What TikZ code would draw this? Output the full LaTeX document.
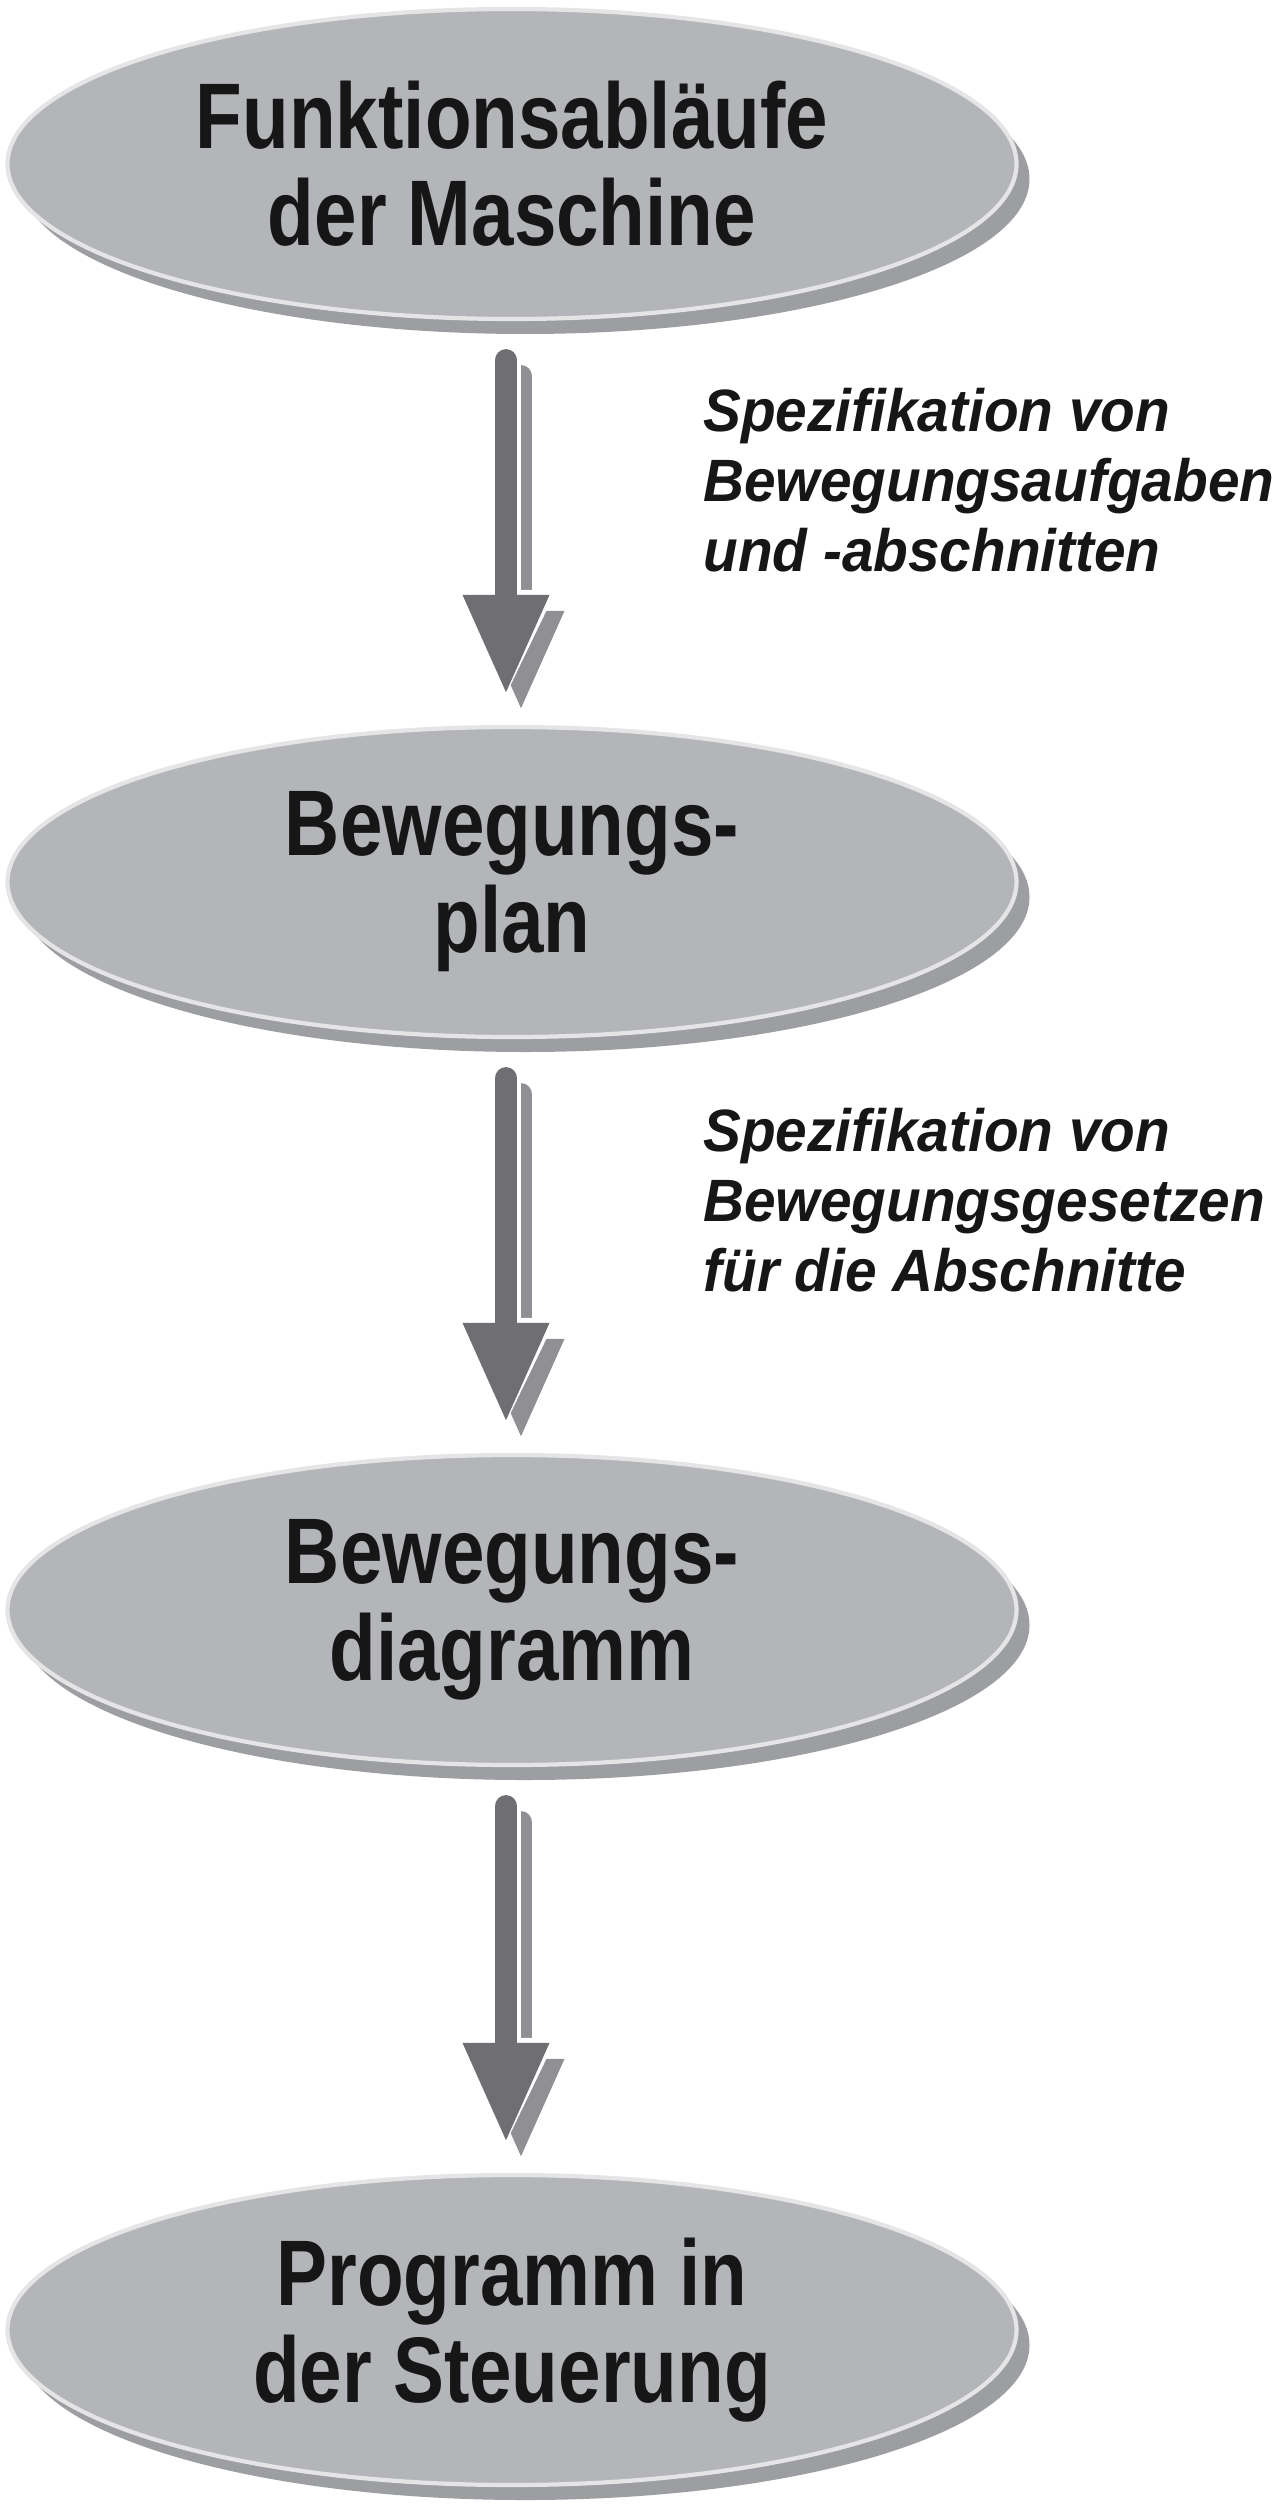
\documentclass[tikz,border=0pt]{standalone}
\usepackage{fontspec}
\newfontfamily\stagefont{Liberation Sans}[FakeStretch=0.82]
\newfontfamily\notefont{Liberation Sans}[FakeStretch=0.95]
\usetikzlibrary{arrows.meta, positioning, shapes.geometric, shadows}

\definecolor{stagegray}{HTML}{B3B5B9}
\definecolor{rimgray}{HTML}{9C9EA2}
\definecolor{arrowgray}{HTML}{6F6E73}
\definecolor{arrowshade}{HTML}{909094}
\definecolor{inkblack}{HTML}{161616}

\tikzset{
  stage/.style={ellipse, fill=stagegray, draw=gray!20, line width=1.2pt,
    minimum width=10.09cm, minimum height=3.1cm, inner sep=0pt,
    align=center, text=inkblack,
    font=\stagefont\bfseries\fontsize{26.5pt}{27.6pt}\selectfont,
    drop shadow={shadow xshift=0.13cm, shadow yshift=-0.15cm, fill=rimgray, opacity=1}},
  note/.style={align=left, anchor=west, text=inkblack,
    font=\notefont\bfseries\itshape\fontsize{17pt}{20pt}\selectfont},
  flow/.style={line width=0.22cm, arrowgray, line cap=round,
    shorten <=0.39cm, shorten >=0.30cm, -{Triangle[length=1cm, width=0.8cm]}},
  flowgap/.style={line width=0.3cm, white, line cap=round,
    shorten <=0.35cm, shorten >=0.27cm, -{Triangle[length=1.08cm, width=0.92cm]}},
  flowshade/.style={line width=0.22cm, arrowshade, line cap=round,
    shorten <=0.39cm, shorten >=0.30cm, -{Triangle[length=1cm, width=0.8cm]}}
}

\begin{document}
\begin{tikzpicture}
  \useasboundingbox (0,0) rectangle (12.8,-25.09);

  % stages
  \node[stage] (fa) at (5.12,-1.64) {Funktionsabläufe\\der Maschine};
  \node[stage] (bp) at (5.12,-8.82) {Bewegungs-\\plan};
  \node[stage] (bd) at (5.12,-16.10) {Bewegungs-\\diagramm};
  \node[stage] (ps) at (5.12,-23.30) {Programm in\\der Steuerung};

  % notes beside the arrows
  \node[note] (n1) at (6.91,-4.80) {Spezifikation von\\Bewegungsaufgaben\\und -abschnitten};
  \node[note] (n2) at (6.91,-12.00) {Spezifikation von\\Bewegungsgesetzen\\für die Abschnitte};

  % arrows with shadow
  \foreach \a/\b in {fa/bp, bp/bd, bd/ps} {
    \draw[flowshade] ([shift={(0.09cm,-0.16cm)}]\a.south) -- ([shift={(0.09cm,-0.16cm)}]\b.north);
    \draw[flowgap] ([xshift=-0.06cm]\a.south) -- ([xshift=-0.06cm]\b.north);
    \draw[flow] ([xshift=-0.06cm]\a.south) -- ([xshift=-0.06cm]\b.north);
  }
\end{tikzpicture}
\end{document}
